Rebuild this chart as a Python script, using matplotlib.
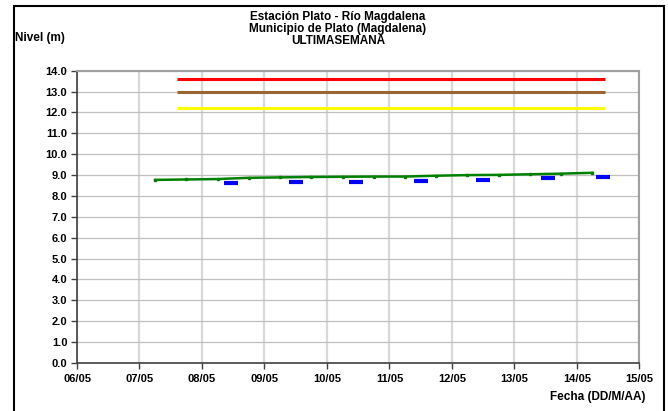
import numpy as np
import pandas as pd
import matplotlib
matplotlib.use("Agg")
import matplotlib.pyplot as plt
import matplotlib.dates as mdates
from matplotlib.patches import Rectangle

plt.rcParams['font.family'] = ['Liberation Sans', 'DejaVu Sans']
plt.rcParams['font.weight'] = 'bold'

# Nivel observado (serie verde), cada 12 horas
green_times = ["2011-05-07 06:00", "2011-05-07 18:00", "2011-05-08 06:00", "2011-05-08 18:00",
               "2011-05-09 06:00", "2011-05-09 18:00", "2011-05-10 06:00", "2011-05-10 18:00",
               "2011-05-11 06:00", "2011-05-11 18:00", "2011-05-12 06:00", "2011-05-12 18:00",
               "2011-05-13 06:00", "2011-05-13 18:00", "2011-05-14 06:00"]
green_levels = [8.77, 8.79, 8.81, 8.87, 8.89, 8.91, 8.92, 8.93,
                8.93, 8.97, 9.00, 9.01, 9.04, 9.07, 9.11]

# Serie azul (tramos cortos)
blue_times = ["2011-05-08 11:00", "2011-05-09 12:00", "2011-05-10 11:00", "2011-05-11 12:00",
              "2011-05-12 12:00", "2011-05-13 13:00", "2011-05-14 10:00"]
blue_levels = [8.61, 8.66, 8.68, 8.73, 8.76, 8.84, 8.90]

# Umbrales de alerta
alert_span = ["2011-05-07 14:30", "2011-05-14 11:00"]
red_level = 13.6
brown_level = 13.0
yellow_level = 12.2

x_start, x_end = "2011-05-06", "2011-05-15"
y_ticks = [0.0, 1.0, 2.0, 3.0, 4.0, 5.0, 6.0, 7.0, 8.0, 9.0, 10.0, 11.0, 12.0, 13.0, 14.0]

gt = pd.to_datetime(green_times)
bt = pd.to_datetime(blue_times)
at = pd.to_datetime(alert_span)

fig = plt.figure(figsize=(6.68, 4.11), dpi=100)
ax = fig.add_axes([77 / 668, 1 - 363 / 411, (639.3 - 77) / 668, (363 - 70.7) / 411])

ax.plot(at, [red_level] * 2, color='#ff0000', lw=2.2, solid_capstyle='butt')
ax.plot(at, [brown_level] * 2, color='#996633', lw=2.2, solid_capstyle='butt')
ax.plot(at, [yellow_level] * 2, color='#ffff00', lw=2.2, solid_capstyle='butt')

ax.plot(gt, green_levels, color='#008000', lw=1.8, marker='s', ms=1.8)
ax.plot(bt, blue_levels, linestyle='none', marker='_', ms=10, mew=3, color='#0000ff')

ax.set_xlim(pd.Timestamp(x_start), pd.Timestamp(x_end))
ax.set_ylim(0, 14)
ax.xaxis.set_major_locator(mdates.DayLocator())
ax.xaxis.set_major_formatter(mdates.DateFormatter('%d/%m'))
ax.set_yticks(y_ticks)
ax.yaxis.set_major_formatter(plt.FormatStrFormatter('%.1f'))

ax.grid(axis='y', color='#c0c0c0', lw=0.9)
ax.grid(axis='x', color='#d8d8d8', lw=1.6)
ax.set_axisbelow(True)
for s in ['top', 'right']:
    ax.spines[s].set_color('#a0a0a0')
    ax.spines[s].set_linewidth(1.5)
for s in ['left', 'bottom']:
    ax.spines[s].set_color('#404040')
    ax.spines[s].set_linewidth(1.2)
ax.tick_params(axis='both', labelsize=8, length=4, width=1, color='#404040')
ax.tick_params(axis='x', pad=4)
ax.tick_params(axis='y', pad=3)
for lbl in ax.get_xticklabels() + ax.get_yticklabels():
    lbl.set_fontweight('bold')

fig.text(338 / 668, 1 - 29 / 411,
         "Estación Plato - Río Magdalena\nMunicipio de Plato (Magdalena)\nULTIMASEMANA",
         ha='center', va='center', fontsize=8.5, fontweight='bold', linespacing=1.0)
fig.text(15 / 668, 1 - 38 / 411, "Nivel (m)", ha='left', va='center', fontsize=8.5, fontweight='bold')
fig.text(646 / 668, 1 - 397 / 411, "Fecha (DD/M/AA)", ha='right', va='center', fontsize=8.5, fontweight='bold')

# restos del texto del documento, cortados por el borde superior
fig.text(39 / 668, 1 + 4 / 411, "g", ha='left', va='baseline', fontsize=14, fontweight='normal')
fig.text(219 / 668, 1 + 4 / 411, "p", ha='left', va='baseline', fontsize=14, fontweight='normal')

# marco exterior
fig.patches.append(Rectangle((13.5 / 668, -0.05), (664 - 13.5) / 668, 1.05 - 6.5 / 411,
                             transform=fig.transFigure, fill=False, edgecolor='black', lw=1.5))

fig.savefig("out.png", dpi=100)
